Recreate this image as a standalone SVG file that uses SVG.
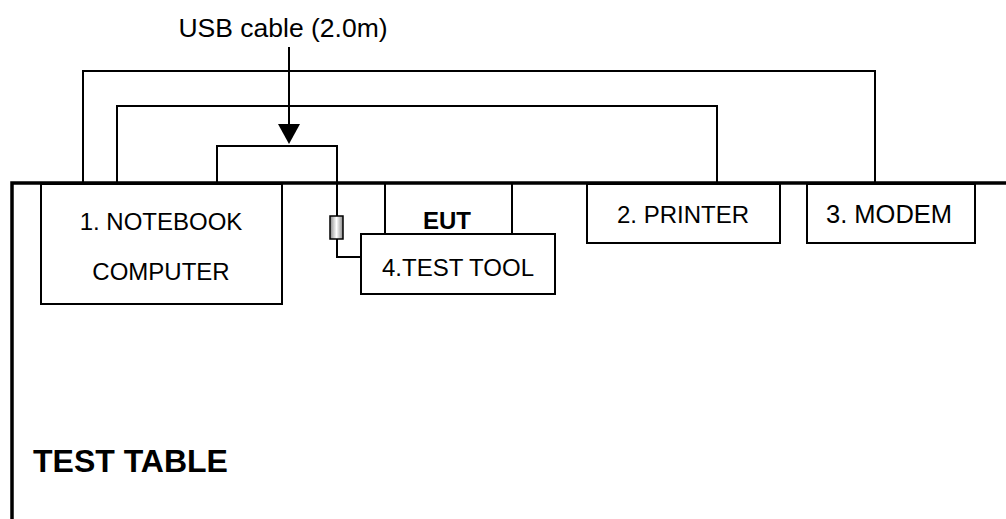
<svg xmlns="http://www.w3.org/2000/svg" width="1006" height="519" viewBox="0 0 1006 519">
<style>
.w{fill:none;stroke:#000;stroke-width:2}
.b{fill:#fff;stroke:#000;stroke-width:2}
.t{font-family:"Liberation Sans",Arial,sans-serif;font-size:24px;fill:#000;text-anchor:middle}
.bold{font-weight:bold}
</style>
<defs>
<linearGradient id="fer" x1="0" y1="0" x2="1" y2="0">
<stop offset="0" stop-color="#888"/>
<stop offset="0.5" stop-color="#fff"/>
<stop offset="1" stop-color="#888"/>
</linearGradient>
</defs>
<rect width="1006" height="519" fill="#fff"/>
<g id="table">
<path d="M12 519 V183 H1006" fill="none" stroke="#000" stroke-width="3.5"/>
<text x="33" y="472" class="t bold" style="font-size:32px;text-anchor:start">TEST TABLE</text>
</g>
<g id="connectors">
<path class="w" d="M83 182 V71 H875 V182"/>
<path class="w" d="M117 182 V106 H717 V182"/>
<path class="w" d="M217 182 V146 H337 V257 H361"/>
<line x1="289" y1="47" x2="289" y2="125" stroke="#000" stroke-width="2"/>
<polygon points="278,124 300,124 289,144" fill="#000"/>
<rect x="330" y="216" width="13" height="23" fill="url(#fer)" stroke="#000" stroke-width="1.5"/>
<text x="283" y="37" class="t" style="font-size:26.5px">USB cable (2.0m)</text>
</g>
<g id="notebook">
<rect class="b" x="41" y="184" width="241" height="120"/>
<text x="161" y="230" class="t">1. NOTEBOOK</text>
<text x="161" y="280" class="t">COMPUTER</text>
</g>
<g id="eut">
<path class="w" d="M385 184 V234 M512 184 V234"/>
<text x="447" y="229" class="t bold">EUT</text>
</g>
<g id="testtool">
<rect class="b" x="361" y="234" width="194" height="60"/>
<text x="458" y="276" class="t">4.TEST TOOL</text>
</g>
<g id="printer">
<rect class="b" x="587" y="184" width="193" height="59"/>
<text x="683" y="223" class="t">2. PRINTER</text>
</g>
<g id="modem">
<rect class="b" x="807" y="184" width="168" height="59"/>
<text x="889" y="223" class="t" style="font-size:25.5px">3. MODEM</text>
</g>
</svg>
